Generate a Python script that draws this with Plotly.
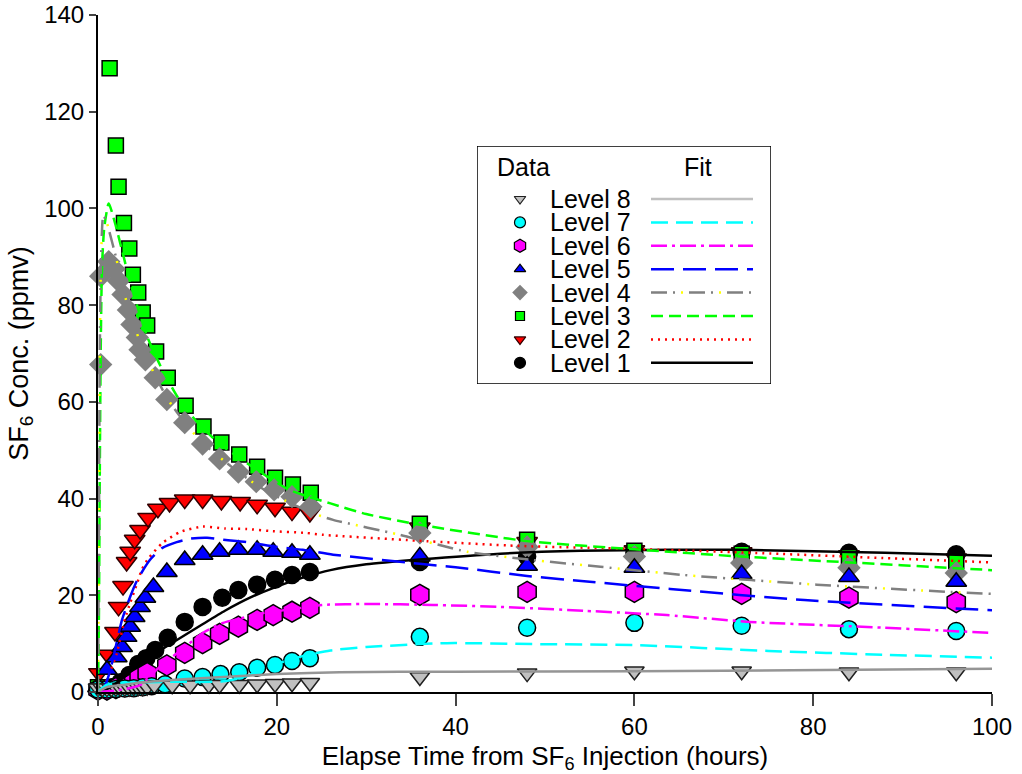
import plotly.graph_objects as go

# ---------------- data ----------------
# Level 8 data
t8 = [0, 0.5, 1, 1.5, 2, 2.5, 3, 3.5, 4, 4.5, 5, 5.5, 6.3, 8.3, 10.3, 12.4, 13.6, 15.8, 17.8, 19.8, 21.7, 23.7, 36, 48, 60, 72, 84, 96]
v8 = [0.8, 0.8, 0.8, 0.8, 0.9, 0.9, 0.9, 0.9, 1.0, 1.0, 1.0, 1.1, 1.4, 1.4, 1.4, 1.5, 1.5, 1.5, 1.6, 1.7, 1.8, 1.9, 3.1, 3.9, 4.3, 4.3, 4.1, 4.1]
# Level 7 data
t7 = [0, 1, 2, 3, 4, 5, 6, 7.5, 9.7, 11.7, 13.7, 15.8, 17.8, 19.8, 21.7, 23.7, 36, 48, 60, 72, 84, 96]
v7 = [0.5, 0.5, 0.6, 0.7, 0.8, 1.0, 1.2, 1.6, 2.8, 3.1, 3.7, 4.1, 5.0, 5.6, 6.4, 7.0, 11.4, 13.3, 14.3, 13.7, 13.0, 12.6]
# Level 6 data
t6 = [0, 1, 2, 3, 4, 4.6, 5.5, 7.7, 9.7, 11.7, 13.6, 15.7, 17.8, 19.6, 21.7, 23.7, 36, 48, 60, 72, 84, 96]
v6 = [0.5, 0.5, 0.8, 1.2, 2.0, 3.0, 3.9, 5.5, 8.1, 10.1, 12.0, 13.5, 14.9, 15.9, 16.6, 17.4, 20.1, 20.7, 20.7, 20.3, 19.5, 18.6]
# Level 5 data
t5 = [0, 1, 2.1, 2.7, 3.2, 3.6, 4.1, 4.7, 5.3, 6.2, 7.7, 9.7, 11.7, 13.6, 15.7, 17.8, 19.6, 21.7, 23.7, 36, 48, 60, 72, 84, 96]
v5 = [1.0, 4.6, 7.2, 9.3, 11.4, 13.5, 15.5, 17.6, 19.5, 21.7, 24.8, 27.3, 28.4, 29.0, 29.4, 29.4, 29.0, 28.8, 28.4, 28.0, 26.1, 25.7, 24.4, 23.8, 22.8]
# Level 4 data
t4 = [0.3, 0.3, 1.2, 1.8, 2.3, 2.8, 3.4, 3.8, 4.4, 4.7, 5.3, 6.4, 7.7, 9.7, 11.7, 13.6, 15.7, 17.7, 19.7, 21.7, 23.8, 36, 48, 60, 72, 84, 96]
v4 = [67.7, 86.0, 89.0, 87.5, 85.0, 82.2, 79.0, 76.0, 73.3, 70.8, 68.7, 65.0, 60.5, 55.7, 51.3, 48.2, 45.5, 43.5, 41.8, 40.4, 38.3, 32.9, 30.0, 28.0, 26.7, 25.7, 24.6]
# Level 3 data
t3 = [0, 1.3, 2.0, 2.3, 2.9, 3.5, 3.9, 4.5, 5.0, 5.5, 6.5, 7.8, 9.8, 11.8, 13.8, 15.8, 17.8, 19.8, 21.8, 23.8, 36, 48, 60, 72, 84, 96]
v3 = [1.0, 129.0, 113.0, 104.5, 97.0, 91.7, 86.3, 82.6, 78.5, 75.8, 70.4, 65.0, 59.2, 54.9, 51.6, 49.1, 46.6, 44.3, 42.9, 41.2, 34.8, 31.5, 29.2, 28.6, 27.9, 27.1]
# Level 2 data
t2 = [0.1, 1.1, 1.9, 2.3, 2.8, 3.2, 3.6, 4.1, 4.7, 5.6, 6.7, 8.0, 9.7, 11.7, 13.8, 15.9, 17.8, 19.8, 21.7, 23.7, 36, 48, 60, 72, 84, 96]
v2 = [3.9, 7.7, 12.4, 17.6, 21.9, 26.9, 29.0, 31.5, 33.5, 36.0, 37.9, 39.1, 39.8, 39.8, 39.5, 39.3, 38.7, 38.1, 37.3, 37.0, 34.0, 31.0, 29.3, 28.9, 28.3, 27.6]
# Level 1 data
t1 = [0, 1.5, 2.5, 3.5, 4.5, 5.4, 6.4, 7.8, 9.7, 11.7, 13.9, 15.7, 17.8, 19.8, 21.7, 23.7, 36, 48, 60, 72, 84, 96]
v1 = [0.5, 1.0, 2.0, 3.5, 5.8, 7.0, 8.7, 11.2, 14.5, 17.6, 19.5, 21.1, 22.2, 23.2, 24.2, 24.8, 26.9, 28.0, 28.8, 29.0, 28.8, 28.5]

# Fit curves
ft8 = [0, 1, 3, 5, 10, 15, 20, 27, 40, 60, 70, 85, 100]
fv8 = [0, 1.0, 1.5, 2.0, 2.7, 3.2, 3.7, 4.1, 4.2, 4.3, 4.4, 4.6, 4.8]
ft7 = [0, 1, 3, 8, 14, 16.5, 18, 19.5, 22, 24, 26, 30, 39, 49, 60, 75, 88, 100]
fv7 = [0, 1.5, 1.9, 2.1, 2.2, 3.2, 4.3, 5.5, 7.0, 7.9, 8.6, 9.3, 10.1, 9.9, 9.7, 8.5, 7.7, 7.1]
ft6 = [0, 2, 4.7, 6.9, 10, 11.7, 14, 16.6, 18.4, 22, 25.2, 30, 37.5, 45, 54.3, 63.6, 72.9, 87.8, 100]
fv6 = [0, 0.3, 1.4, 5.2, 9.7, 12.2, 14.3, 15.5, 16.3, 17.2, 18.0, 18.2, 18.0, 17.6, 16.8, 15.9, 14.5, 13.3, 12.2]
ft5 = [0, 0.7, 1.3, 1.9, 2.7, 3.6, 4.4, 5.8, 7.2, 8.8, 10.3, 12.2, 14, 16.6, 20, 22.9, 26.3, 36, 40, 48, 55, 64, 79, 100]
fv5 = [0, 1.0, 4.0, 8.7, 15.0, 19.7, 23.2, 27.3, 29.8, 31.0, 31.7, 31.9, 31.5, 31.0, 30.0, 29.4, 28.4, 26.5, 25.8, 24.0, 22.8, 21.3, 19.0, 16.9]
ft4 = [0, 0.1, 0.2, 0.35, 0.6, 1.0, 1.3, 2, 3, 4, 5, 6.5, 8, 10, 12, 15, 18, 21, 24, 26.3, 33.8, 41.3, 48.6, 56.2, 65.5, 80.4, 95.3, 100]
fv4 = [0, 30, 70, 90, 98.5, 97, 95, 90, 82, 76, 71, 65, 60, 55, 51, 46.5, 42.5, 39.5, 37, 35.6, 32.5, 29.0, 27.3, 25.9, 24.2, 22.2, 20.7, 20.3]
ft3 = [0, 0.1, 0.2, 0.3, 0.45, 0.7, 1.2, 1.9, 2.6, 3.7, 5.5, 7.1, 8.9, 11, 13.5, 16.6, 21.4, 26, 30, 36, 48, 60, 72, 84, 96, 100]
fv3 = [0, 15, 45, 70, 88, 96, 101, 97, 92, 84, 73.5, 67, 61, 56, 51.5, 47.4, 41.8, 39, 36.8, 34.6, 31.2, 29.5, 28.0, 26.8, 25.6, 25.2]
ft2 = [0, 0.5, 1.3, 2.1, 3, 3.6, 4.4, 4.9, 5.6, 7.2, 9.2, 11.7, 14.2, 16.7, 19.2, 23.2, 25.2, 35.7, 47.2, 59.8, 72.9, 87.8, 100]
fv2 = [0, 0.5, 3.9, 8.0, 15.0, 18.4, 22.6, 25.3, 27.5, 30.8, 33.1, 34.2, 33.8, 33.7, 33.3, 32.9, 32.5, 31.3, 30.2, 29.6, 28.8, 27.7, 26.8]
ft1 = [0, 1, 2, 3, 4, 6, 8.6, 11.6, 14.2, 17, 20, 23, 26, 30, 36, 45, 54, 64, 72, 88, 100]
fv1 = [0, 0.6, 1.8, 3.2, 4.8, 7.5, 10.5, 13.9, 16.8, 19.5, 21.8, 23.7, 25.2, 26.4, 27.4, 28.6, 29.2, 29.4, 29.4, 28.8, 28.2]

labels = ["Level 8", "Level 7", "Level 6", "Level 5", "Level 4", "Level 3", "Level 2", "Level 1"]
x_ticks = [0, 20, 40, 60, 80, 100]
y_ticks = [0, 20, 40, 60, 80, 100, 120, 140]

# ---------------- styles ----------------
FONT = "Liberation Sans, Arial, sans-serif"
series = {
    "Level 1": dict(t=t1, v=v1, ft=ft1, fv=fv1, sym="circle", fill="#000000", edge="#000000", size=17, lsize=11,
                    lc="#000000", dash="solid"),
    "Level 2": dict(t=t2, v=v2, ft=ft2, fv=fv2, sym="triangle-down", fill="#ff0000", edge="#300000", size=18, lsize=10,
                    lc="#ff0000", dash="2px,5px"),
    "Level 3": dict(t=t3, v=v3, ft=ft3, fv=fv3, sym="square", fill="#00ff00", edge="#000000", size=15, lsize=9,
                    lc="#00ff00", dash="12px,6px"),
    "Level 4": dict(t=t4, v=v4, ft=ft4, fv=fv4, sym="diamond", fill="#808080", edge="#808080", size=18, lsize=12,
                    lc="#808080", dash="16px,6px,2px,14px"),
    "Level 5": dict(t=t5, v=v5, ft=ft5, fv=fv5, sym="triangle-up", fill="#0000ff", edge="#000000", size=18, lsize=10,
                    lc="#0000ff", dash="23px,9px"),
    "Level 6": dict(t=t6, v=v6, ft=ft6, fv=fv6, sym="hexagon", fill="#ff00ff", edge="#000000", size=21, lsize=13,
                    lc="#ff00ff", dash="16px,5px,3px,5px"),
    "Level 7": dict(t=t7, v=v7, ft=ft7, fv=fv7, sym="circle", fill="#00ffff", edge="#000000", size=17, lsize=11,
                    lc="#00ffff", dash="17px,8px"),
    "Level 8": dict(t=t8, v=v8, ft=ft8, fv=fv8, sym="triangle-down", fill="#c0c0c0", edge="#202020", size=17, lsize=10,
                    lc="#959595", dash="solid"),
}
YELLOW_DASH = "0px,30px,2px,6px"
LW = 2.5

fig = go.Figure()
order = ["Level 1", "Level 2", "Level 3", "Level 4", "Level 5", "Level 6", "Level 7", "Level 8"]

# data markers
for name in order:
    s = series[name]
    fig.add_trace(go.Scatter(
        x=s["t"], y=s["v"], mode="markers", name=name, showlegend=False, cliponaxis=False,
        marker=dict(symbol=s["sym"], size=s["size"], color=s["fill"],
                    line=dict(color=s["edge"], width=1.5 if name != "Level 4" else 0))))

# fit curves
for name in order:
    s = series[name]
    fig.add_trace(go.Scatter(
        x=s["ft"], y=s["fv"], mode="lines", showlegend=False,
        line=dict(color=s["lc"], width=LW, dash=s["dash"], shape="spline", smoothing=0.6)))
    if name == "Level 4":
        fig.add_trace(go.Scatter(
            x=s["ft"], y=s["fv"], mode="lines", showlegend=False,
            line=dict(color="#ffff00", width=LW, dash=YELLOW_DASH, shape="spline", smoothing=0.6)))

# ---------------- custom legend (overlay axes, pixel-like units) ----------------
LEG_W, LEG_H = 294, 238
row_y0, row_dy = 53, 23.4
mk_x, txt_x, ln_x0, ln_x1 = 43, 71, 174, 276
for i, name in enumerate(labels):
    s = series[name]
    yy = row_y0 + i * row_dy
    fig.add_trace(go.Scatter(
        x=[mk_x], y=[yy], mode="markers", xaxis="x2", yaxis="y2", showlegend=False,
        marker=dict(symbol=s["sym"], size=s["lsize"], color=s["fill"],
                    line=dict(color=s["edge"], width=1.2 if name != "Level 4" else 0))))
    lc = "#c0c0c0" if name == "Level 8" else s["lc"]
    fig.add_trace(go.Scatter(
        x=[ln_x0, ln_x1], y=[yy, yy], mode="lines", xaxis="x2", yaxis="y2", showlegend=False,
        line=dict(color=lc, width=LW, dash=s["dash"])))
    if name == "Level 4":
        fig.add_trace(go.Scatter(
            x=[ln_x0, ln_x1], y=[yy, yy], mode="lines", xaxis="x2", yaxis="y2", showlegend=False,
            line=dict(color="#ffff00", width=LW, dash=YELLOW_DASH)))
    fig.add_annotation(x=txt_x, y=yy, xref="x2", yref="y2", text=name, showarrow=False,
                       xanchor="left", yanchor="middle", font=dict(family=FONT, size=25, color="black"))

fig.add_annotation(x=46, y=21, xref="x2", yref="y2", text="Data", showarrow=False,
                   xanchor="center", yanchor="middle", font=dict(family=FONT, size=25, color="black"))
fig.add_annotation(x=221, y=21, xref="x2", yref="y2", text="Fit", showarrow=False,
                   xanchor="center", yanchor="middle", font=dict(family=FONT, size=25, color="black"))
fig.add_shape(type="rect", xref="x2", yref="y2", x0=0, x1=LEG_W, y0=0, y1=LEG_H,
              line=dict(color="black", width=1.5), fillcolor="rgba(0,0,0,0)")

# ---------------- layout ----------------
fig.update_layout(
    width=1022, height=774,
    margin=dict(l=98, r=30, t=15, b=82, autoexpand=False),
    paper_bgcolor="white", plot_bgcolor="white",
    font=dict(family=FONT, size=24, color="black"),
    xaxis=dict(range=[0, 100], tickvals=x_ticks, ticks="outside", ticklen=12, tickwidth=1.5,
               showline=True, linecolor="black", linewidth=2, showgrid=False, zeroline=False,
               automargin=False, tickfont=dict(family=FONT, size=24),
               title=dict(text="Elapse Time from SF<sub>6</sub> Injection (hours)",
                          font=dict(family=FONT, size=26), standoff=8)),
    yaxis=dict(range=[0, 140], tickvals=y_ticks, ticks="outside", ticklen=7, tickwidth=1.5,
               showline=True, linecolor="black", linewidth=2, showgrid=False, zeroline=False,
               automargin=False, tickfont=dict(family=FONT, size=24),
               title=dict(text="SF<sub>6</sub> Conc. (ppmv)", font=dict(family=FONT, size=27), standoff=8)),
    xaxis2=dict(domain=[(477 - 98) / 894, (771 - 98) / 894], range=[0, LEG_W], visible=False,
                anchor="y2", fixedrange=True),
    yaxis2=dict(domain=[(692 - 384) / 677, (692 - 146) / 677], range=[LEG_H, 0], visible=False,
                anchor="x2", fixedrange=True),
)

fig.write_html("out.html")
